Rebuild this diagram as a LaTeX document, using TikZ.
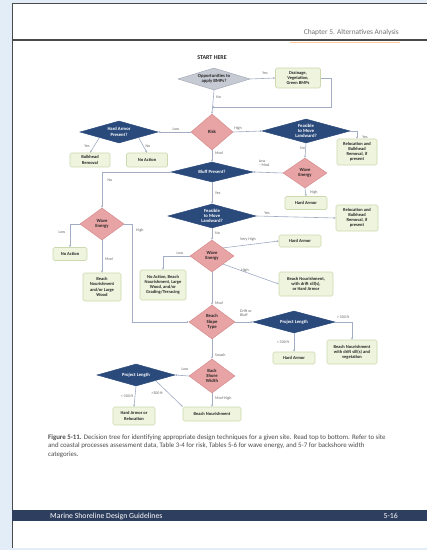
\documentclass[tikz,border=0pt]{standalone}
\usepackage{fontspec}
\setmainfont{Carlito}
\usetikzlibrary{shapes.geometric,arrows.meta}
\definecolor{bgblue}{HTML}{E3EDF8}
\definecolor{navy}{HTML}{2B4A7C}
\definecolor{pinkf}{HTML}{E8A3A4}
\definecolor{pinkd}{HTML}{D68C8E}
\definecolor{grayf}{HTML}{C6CAD3}
\definecolor{grayd}{HTML}{A5ABB8}
\definecolor{gfill}{HTML}{EEF4DE}
\definecolor{gborder}{HTML}{CCD9AE}
\definecolor{conn}{HTML}{A0ADC4}
\definecolor{footbar}{HTML}{2D3E5E}
\definecolor{hdrule}{HTML}{4A4A4A}
\tikzset{
  navyd/.style={diamond, aspect=3, fill=navy, draw=navy, line width=0.5bp, text=white, inner sep=0pt,
    font=\fontsize{4.7}{5.3}\selectfont\bfseries, align=center},
  pinkd/.style={diamond, aspect=1.3, fill=pinkf, draw=pinkd, line width=0.5bp, text=black!85, inner sep=0pt,
    font=\fontsize{4.7}{5.3}\selectfont\bfseries, align=center},
  grayd/.style={diamond, aspect=3, fill=grayf, draw=grayd, line width=0.5bp, text=black!85, inner sep=0pt,
    font=\fontsize{4.7}{5.3}\selectfont\bfseries, align=center},
  gbox/.style={rectangle, rounded corners=1.5bp, fill=gfill, draw=gborder, line width=0.6bp, inner sep=0.5bp,
    align=center, font=\fontsize{4.5}{5.2}\selectfont\bfseries, text=black!85},
  cn/.style={draw=conn, line width=0.6bp, -{Stealth[length=2.2bp,width=2bp]}},
  lab/.style={font=\fontsize{4}{4.5}\selectfont, text=black!60, inner sep=0pt, align=left}
}
\begin{document}
\begin{tikzpicture}[x=1bp,y=-1bp]
\useasboundingbox (0,0) rectangle (427,550);
\fill[bgblue] (0,0) rectangle (427,550);
\fill[white] (12,3.5) rectangle (427,548);
\draw[hdrule, line width=0.9bp] (12,548) -- (12,3.5) -- (427,3.5);
% header
\node[anchor=base east, font=\fontsize{7.4}{8}\selectfont, text=black!55, inner sep=0] (hdr) at (399,35) {Chapter 5. Alternatives Analysis};
\draw[hdrule, line width=1.4bp] (12,40) -- (427,40);
\draw[orange!40, line width=0.8bp] (290,42) -- (400,42);
% footer
\fill[footbar] (12,510) rectangle (427,521);
\node[anchor=base west, font=\fontsize{7.8}{8}\selectfont, text=white, inner sep=0] (ftl) at (50,518.5) {Marine Shoreline Design Guidelines};
\node[anchor=base east, font=\fontsize{7.8}{8}\selectfont, text=white, inner sep=0] (ftr) at (398,518.5) {5-16};
% caption
\node[anchor=north west, font=\fontsize{6.9}{9}\selectfont, text=black!70, inner sep=0, align=left] (cap) at (48,434)
 {\textbf{Figure 5-11.} Decision tree for identifying appropriate design techniques for a given site. Read top to bottom. Refer to site\\
  and coastal processes assessment data, Table 3-4 for risk, Tables 5-6 for wave energy, and 5-7 for backshore width\\
  categories.};
% flowchart nodes
\node[font=\fontsize{6}{6}\selectfont\bfseries, text=black!85, inner sep=0] (start) at (212,58) {START HERE};
\node[grayd, minimum width=72bp, minimum height=22bp] (opp) at (214,79) {Opportunities to\\apply BMPs?};
\node[gbox, minimum width=45bp, minimum height=20bp] (drain) at (298,78) {Drainage,\\Vegetation,\\Green BMPs};
\node[pinkd, minimum width=42bp, minimum height=36bp] (risk) at (212,132) {Risk};
\node[navyd, minimum width=78bp, minimum height=22bp] (harm) at (119,132) {Hard Armor\\Present?};
\node[gbox, minimum width=40bp, minimum height=14bp] (bulk) at (90,160) {Bulkhead\\Removal};
\node[gbox, minimum width=41bp, minimum height=14bp] (noact1) at (147,160) {No Action};
\node[navyd, minimum width=88bp, minimum height=24bp] (feas1) at (306,131) {Feasible\\to Move\\Landward?};
\node[gbox, minimum width=40bp, minimum height=26bp] (reloc1) at (357,152) {Relocation and\\Bulkhead\\Removal, if\\present};
\node[pinkd, minimum width=44bp, minimum height=30bp] (wave1) at (305,173) {Wave\\Energy};
\node[gbox, minimum width=42bp, minimum height=13bp] (harmor1) at (306,203) {Hard Armor};
\node[navyd, minimum width=82bp, minimum height=20bp] (bluff) at (212,172) {Bluff Present?};
\node[pinkd, minimum width=44bp, minimum height=32bp] (wave2) at (102,224) {Wave\\Energy};
\node[navyd, minimum width=88bp, minimum height=24bp] (feas2) at (212,216) {Feasible\\to Move\\Landward?};
\node[gbox, minimum width=42bp, minimum height=26bp] (reloc2) at (357,218) {Relocation and\\Bulkhead\\Removal, if\\present};
\node[gbox, minimum width=34bp, minimum height=13bp] (noact2) at (70,254) {No Action};
\node[gbox, minimum width=38bp, minimum height=28bp] (bnlw) at (102,287) {Beach\\Nourishment\\and/or Large\\Wood};
\node[pinkd, minimum width=44bp, minimum height=32bp] (wave3) at (212,256) {Wave\\Energy};
\node[gbox, minimum width=42bp, minimum height=12bp] (harmor2) at (300,241) {Hard Armor};
\node[gbox, minimum width=54bp, minimum height=24bp] (bnds) at (306,284) {Beach Nourishment,\\with drift sill(s),\\or Hard Armor};
\node[gbox, minimum width=46bp, minimum height=30bp] (noact3) at (163,285) {No Action, Beach\\Nourishment, Large\\Wood, and/or\\Grading/Terracing};
\node[pinkd, minimum width=46bp, minimum height=34bp] (slope) at (212,322) {Beach\\Slope\\Type};
\node[navyd, minimum width=82bp, minimum height=22bp] (plen1) at (294,322) {Project Length};
\node[gbox, minimum width=50bp, minimum height=24bp] (bnsv) at (352,352) {Beach Nourishment\\with drift sill(s) and\\vegetation};
\node[gbox, minimum width=42bp, minimum height=12bp] (harmor3) at (294,358) {Hard Armor};
\node[pinkd, minimum width=46bp, minimum height=34bp] (bsw) at (212,376) {Back\\Shore\\Width};
\node[navyd, minimum width=78bp, minimum height=22bp] (plen2) at (136,375) {Project Length};
\node[gbox, minimum width=42bp, minimum height=18bp] (haor) at (134,416) {Hard Armor or\\Relocation};
\node[gbox, minimum width=58bp, minimum height=14bp] (bn) at (212,414) {Beach Nourishment};
% connectors
\coordinate (j1) at (212,107);
\draw[cn] (opp.east) -- (drain.west);
\draw[cn] (opp.south) -- (risk.north);
\draw[cn] (drain.east) -- ++(10,0) |- (j1);
\draw[cn] (risk.west) -- (harm.east);
\draw[cn] (harm.south west) -- (bulk.north);
\draw[cn] (harm.south east) -- (noact1.north);
\draw[cn] (risk.east) -- (feas1.west);
\draw[cn] (feas1.east) -| (reloc1.north);
\draw[cn] (feas1.south) -- (wave1.north);
\draw[cn] (wave1.south) -- (harmor1.north);
\draw[cn] (wave1.west) -- (bluff.east);
\draw[cn] (risk.south) -- (bluff.north);
\draw[cn] (bluff.west) -| (wave2.north);
\draw[cn] (bluff.south) -- (feas2.north);
\draw[cn] (feas2.east) -- (reloc2.west);
\draw[cn] (wave2.west) -| (noact2.north);
\draw[cn] (wave2.south) -- (bnlw.north);
\draw[cn] (wave2.east) -- ++(8,0) |- (slope.west);
\draw[cn] (feas2.south) -- (wave3.north);
\draw[cn] (wave3.north east) -- (harmor2.west);
\draw[cn] (wave3.south east) -- (bnds.west);
\draw[cn] (wave3.west) -| (noact3.north);
\draw[cn] (wave3.south) -- (slope.north);
\draw[cn] (slope.east) -- (plen1.west);
\draw[cn] (plen1.east) -| (bnsv.north);
\draw[cn] (plen1.south) -- (harmor3.north);
\draw[cn] (slope.south) -- (bsw.north);
\draw[cn] (bsw.west) -- (plen2.east);
\draw[cn] (plen2.south) -- (haor.north);
\draw[cn] (plen2.south east) -- (bn.north west);
\draw[cn] (bsw.south) -- (bn.north);
% labels
\node[lab] (l1) at (265,73) {Yes};
\node[lab, anchor=west] (l2) at (216,97) {No};
\node[lab] (l3) at (176,129) {Low};
\node[lab] (l4) at (238,128) {High};
\node[lab] (l5) at (87,146) {Yes};
\node[lab] (l6) at (148,146) {No};
\node[lab] (l7) at (365,137) {Yes};
\node[lab, anchor=west] (l8) at (300,148) {No};
\node[lab, anchor=west] (l9) at (215,153) {Mod};
\node[lab, anchor=west] (l10) at (310,192) {High};
\node[lab] (l11) at (264,163) {Low\\– Mod};
\node[lab] (l12) at (110,180) {No};
\node[lab, anchor=west] (l13) at (215,193) {Yes};
\node[lab] (l14) at (267,213) {Yes};
\node[lab] (l15) at (62,232) {Low};
\node[lab, anchor=west] (l16) at (105,259) {Mod};
\node[lab, anchor=west] (l17) at (136,230) {High};
\node[lab, anchor=west] (l18) at (215,233) {No};
\node[lab] (l19) at (248,239) {Very High};
\node[lab] (l20) at (180,253) {Low};
\node[lab] (l21) at (245,270) {High};
\node[lab, anchor=west] (l22) at (215,303) {Mod};
\node[lab] (l23) at (246,313) {Drift or\\Bluff};
\node[lab] (l24) at (343,317) {> 300 ft};
\node[lab] (l25) at (283,342) {< 300 ft};
\node[lab, anchor=west] (l26) at (215,355) {Swash};
\node[lab] (l27) at (185,369) {Low};
\node[lab] (l28) at (127,396) {< 300 ft};
\node[lab] (l29) at (157,393) {>300 ft};
\node[lab, anchor=west] (l30) at (215,398) {Mod-High};
\end{tikzpicture}
\end{document}
